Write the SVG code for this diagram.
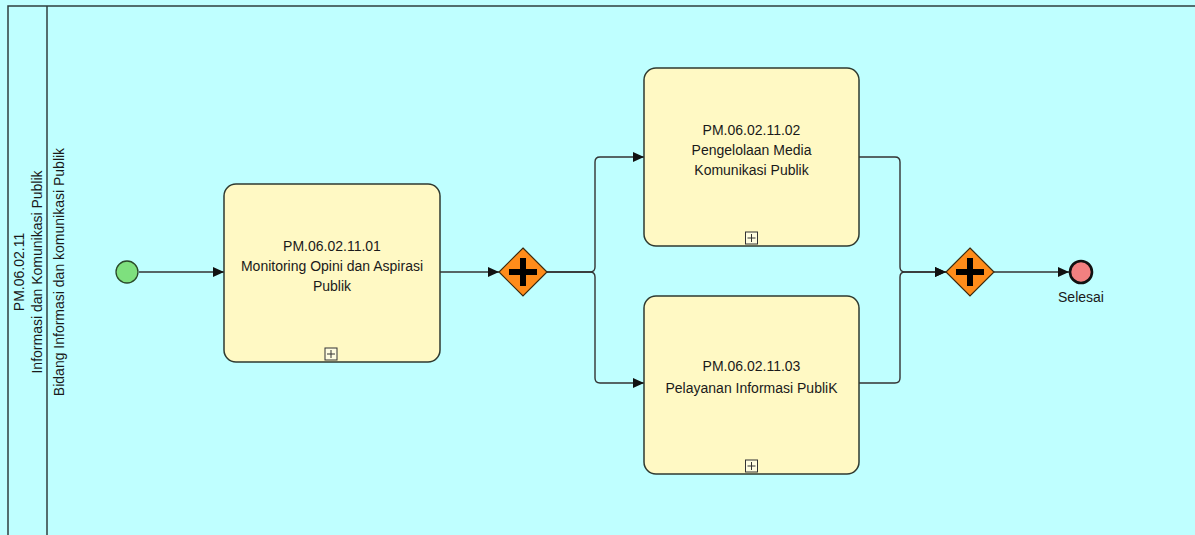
<svg xmlns="http://www.w3.org/2000/svg" width="1195" height="535" viewBox="0 0 1195 535">
<defs>
<style>
.lane{fill:#bfffff;stroke:none}
.border{stroke:#2f3f3f;stroke-width:1.5;fill:none}
.task{fill:#fff9c4;stroke:#2f3a30;stroke-width:1.5}
.t{font-family:"Liberation Sans",Arial,sans-serif;font-size:14px;fill:#1a1a1a;text-anchor:middle}
.lt{font-family:"Liberation Sans",Arial,sans-serif;font-size:14px;fill:#1a1a1a;text-anchor:middle}
.flow{fill:none;stroke:#333;stroke-width:1.4;marker-end:url(#ah)}
.gw{fill:#ff8c1a;stroke:#3a2a10;stroke-width:1.2}
.plus{fill:#000}
.mk{fill:#fffde0;stroke:#333;stroke-width:1}
</style>
<marker id="ah" markerWidth="12" markerHeight="10" refX="11" refY="5" orient="auto" markerUnits="userSpaceOnUse">
<path d="M0,0 L11,5 L0,10 Z" fill="#111"/>
</marker>
</defs>
<rect class="lane" x="0" y="0" width="1195" height="535"/>
<g id="pool">
<path class="border" d="M8,535 V6 H1195"/>
<line class="border" x1="47" y1="6" x2="47" y2="535"/>
<text class="lt" transform="translate(24,272) rotate(-90)">PM.06.02.11</text>
<text class="lt" transform="translate(42,272) rotate(-90)">Informasi dan Komunikasi Publik</text>
<text class="lt" transform="translate(64,272) rotate(-90)">Bidang Informasi dan komunikasi Publik</text>
</g>
<g id="connectors">
<path class="flow" d="M139,272 H224"/>
<path class="flow" d="M440,272 H499"/>
<path class="flow" d="M547,272 H590 Q595,272 595,267 V162 Q595,157 600,157 H644"/>
<path class="flow" d="M547,272 H590 Q595,272 595,277 V378 Q595,383 600,383 H644"/>
<path class="flow" d="M859,157 H895 Q900,157 900,162 V267 Q900,272 905,272 H946"/>
<path class="flow" d="M859,383 H895 Q900,383 900,378 V277 Q900,272 905,272 H946"/>
<path class="flow" d="M994,272 H1069"/>
</g>
<g id="start">
<circle cx="127" cy="272" r="11" fill="#7ee07e" stroke="#2a4a2a" stroke-width="1.3"/>
</g>
<g id="task1">
<rect class="task" x="224" y="184" width="216" height="178" rx="12"/>
<text class="t" x="332" y="251">PM.06.02.11.01</text>
<text class="t" x="332" y="271">Monitoring Opini dan Aspirasi</text>
<text class="t" x="332" y="291">Publik</text>
<rect class="mk" x="325" y="348" width="12" height="12"/>
<path d="M327,354 H335 M331,350 V358" stroke="#333" stroke-width="1"/>
</g>
<g id="gateway1">
<path class="gw" d="M523,248 L547,272 L523,296 L499,272 Z"/>
<path class="plus" d="M520,258 H526 V269 H537 V275 H526 V286 H520 V275 H509 V269 H520 Z"/>
</g>
<g id="task2">
<rect class="task" x="644" y="68" width="215" height="178" rx="12"/>
<text class="t" x="751.5" y="135">PM.06.02.11.02</text>
<text class="t" x="751.5" y="155">Pengelolaan Media</text>
<text class="t" x="751.5" y="175">Komunikasi Publik</text>
<rect class="mk" x="745.5" y="232" width="12" height="12"/>
<path d="M747.5,238 H755.5 M751.5,234 V242" stroke="#333" stroke-width="1"/>
</g>
<g id="task3">
<rect class="task" x="644" y="296" width="215" height="178" rx="12"/>
<text class="t" x="751.5" y="371">PM.06.02.11.03</text>
<text class="t" x="751.5" y="393">Pelayanan Informasi PubliK</text>
<rect class="mk" x="745.5" y="460" width="12" height="12"/>
<path d="M747.5,466 H755.5 M751.5,462 V470" stroke="#333" stroke-width="1"/>
</g>
<g id="gateway2">
<path class="gw" d="M970,248 L994,272 L970,296 L946,272 Z"/>
<path class="plus" d="M967,258 H973 V269 H984 V275 H973 V286 H967 V275 H956 V269 H967 Z"/>
</g>
<g id="end">
<circle cx="1081" cy="272" r="11" fill="#f28080" stroke="#111" stroke-width="2.6"/>
<text class="t" x="1081" y="302">Selesai</text>
</g>
</svg>
